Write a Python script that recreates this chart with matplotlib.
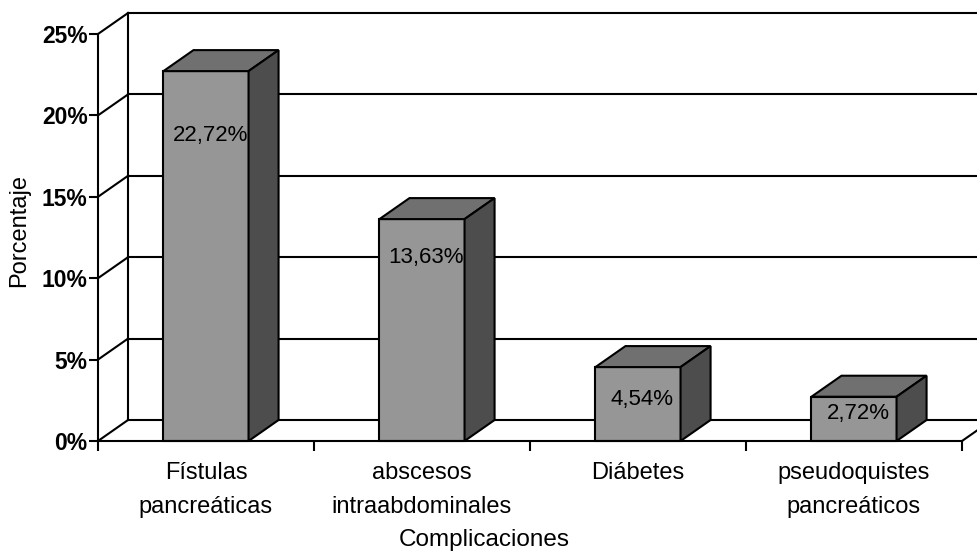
import matplotlib
matplotlib.use('Agg')
import matplotlib.pyplot as plt
from matplotlib.patches import Polygon

plt.rcParams['font.family'] = ['Liberation Sans', 'DejaVu Sans']

categories = ['Fístulas\npancreáticas', 'abscesos\nintraabdominales',
              'Diábetes', 'pseudoquistes\npancreáticos']
values = [22.72, 13.63, 4.54, 2.72]
yticks = [0, 5, 10, 15, 20, 25]

# where each value label sits below its bar top (in %)
label_drop = [3.95, 2.35, 2.0, 1.05]

front_c = '#969696'
top_c = '#707070'
side_c = '#4d4d4d'
lw = 1.5

# depth of the 3D box: x in category units, y in percent
dx, dy = 0.139, 1.29
bar_w = 0.394

fig = plt.figure(figsize=(9.78, 5.56), dpi=100)
ax = fig.add_axes([98 / 978, 115 / 556, 864 / 978, 407 / 556])
ax.set_facecolor('none')
ax.set_xlim(0, 4)
ax.set_ylim(0, 25)

# back wall and left wall
for y in yticks:
    ax.plot([dx, 4 + dx], [y + dy, y + dy], color='black', lw=lw,
            clip_on=False, zorder=1)
    ax.plot([0, dx], [y, y + dy], color='black', lw=lw, clip_on=False, zorder=1)
ax.plot([dx, dx], [dy, 25 + dy], color='black', lw=lw, clip_on=False, zorder=1)
ax.plot([4, 4 + dx], [0, dy], color='black', lw=lw, clip_on=False, zorder=1)

# bars
for i, v in enumerate(values):
    x0 = i + 0.5 - bar_w / 2
    x1 = x0 + bar_w
    faces = [
        ([(x0, 0), (x1, 0), (x1, v), (x0, v)], front_c),
        ([(x0, v), (x1, v), (x1 + dx, v + dy), (x0 + dx, v + dy)], top_c),
        ([(x1, 0), (x1 + dx, dy), (x1 + dx, v + dy), (x1, v)], side_c),
    ]
    for pts, c in faces:
        ax.add_patch(Polygon(pts, closed=True, facecolor=c, edgecolor='black',
                             lw=lw, joinstyle='miter', clip_on=False, zorder=2))
    lab = f'{v:.2f}'.replace('.', ',') + '%'
    ax.text(i + 0.52, v - label_drop[i], lab, ha='center', va='center',
            fontsize=16, color='black', zorder=3)

for side in ['top', 'right']:
    ax.spines[side].set_visible(False)
for side in ['left', 'bottom']:
    ax.spines[side].set_linewidth(lw)
    ax.spines[side].set_zorder(2.5)

ax.set_yticks(yticks)
ax.set_yticklabels([f'{t}%' for t in yticks], fontsize=16.5, fontweight='bold')
ax.tick_params(axis='y', direction='out', length=6.5, width=lw, pad=1)

ax.set_xticks([0, 1, 2, 3, 4])
ax.set_xticklabels([])
ax.tick_params(axis='x', which='major', direction='out', length=7, width=lw)
ax.set_xticks([0.5, 1.5, 2.5, 3.5], minor=True)
ax.set_xticklabels(categories, minor=True, fontsize=17, linespacing=1.7)
ax.tick_params(axis='x', which='minor', length=0, pad=15)

ax.text(-0.366, 12.96, 'Porcentaje', rotation=90, ha='center', va='center',
        fontsize=17)
ax.text(1.789, -6.1, 'Complicaciones', ha='center', va='center', fontsize=17.5)

fig.savefig('out.png', dpi=100)
